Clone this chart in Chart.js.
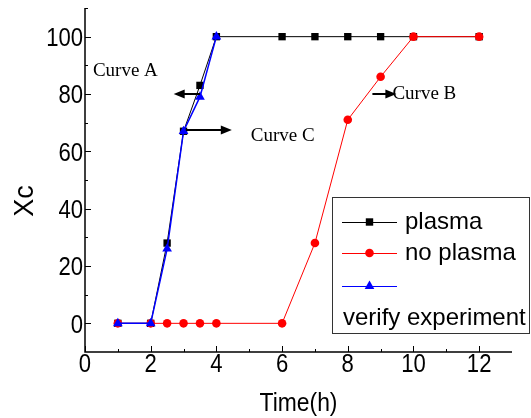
<!DOCTYPE html>
<html>
<head>
<meta charset="utf-8">
<script src="https://cdn.jsdelivr.net/npm/chart.js@4.4.1/dist/chart.umd.min.js"></script>
<style>
  html, body { margin: 0; padding: 0; background: #fff; }
  canvas { display: block; }
</style>
</head>
<body>
<canvas id="chart" width="531" height="418"></canvas>
<script>
// data
const timeHours = [1, 2, 2.5, 3, 3.5, 4, 6, 7, 8, 9, 10, 12];
const plasmaXc = [0, 0, 28, 67, 83, 100, 100, 100, 100, 100, 100, 100];
const noPlasmaXc = [0, 0, 0, 0, 0, 0, 0, 28, 71, 86, 100, 100];
const verifyHours = [1, 2, 2.5, 3, 3.5, 4];
const verifyXc = [0, 0, 26, 67, 79, 100];

const xTickValues = [0, 2, 4, 6, 8, 10, 12];
const yTickValues = [0, 20, 40, 60, 80, 100];

const curveNotes = [
  { text: 'Curve A', x: 0.24, y: 88 },
  { text: 'Curve C', x: 5.05, y: 65.5 },
  { text: 'Curve B', x: 9.36, y: 80 }
];
const curveArrows = [
  { from: 3.5, to: 2.7, y: 80 },
  { from: 3.07, to: 4.47, y: 67.4 },
  { from: 8.75, to: 9.48, y: 80 }
];

const sans = "'Liberation Sans', Arial, sans-serif";
const serif = "'Liberation Serif', 'Times New Roman', serif";

const toPoints = (xs, ys) => xs.map((x, i) => ({ x: x, y: ys[i] }));

// the original uses a condensed face, so squeeze the text sideways
function narrowText(ctx, text, x, y, size, squeeze, align) {
  ctx.save();
  ctx.font = size + 'px ' + sans;
  ctx.textAlign = align;
  ctx.textBaseline = 'alphabetic';
  ctx.translate(x, y);
  ctx.scale(squeeze, 1);
  ctx.fillText(text, 0, 0);
  ctx.restore();
}

function drawMarker(ctx, style, x, y, color) {
  ctx.fillStyle = color;
  ctx.beginPath();
  if (style === 'rect') {
    ctx.rect(x - 3.7, y - 3.7, 7.4, 7.4);
  } else if (style === 'circle') {
    ctx.arc(x, y, 4.3, 0, Math.PI * 2);
  } else {
    ctx.moveTo(x, y - 5.5);
    ctx.lineTo(x + 4.8, y + 3);
    ctx.lineTo(x - 4.8, y + 3);
    ctx.closePath();
  }
  ctx.fill();
}

const figureExtras = {
  id: 'figureExtras',
  afterDraw(chart) {
    const ctx = chart.ctx;
    const xs = chart.scales.x;
    const ys = chart.scales.y;
    const area = chart.chartArea;
    ctx.save();

    // axis lines with inward ticks
    ctx.strokeStyle = '#000';
    ctx.lineWidth = 1.5;
    ctx.beginPath();
    ctx.moveTo(area.left, area.top);
    ctx.lineTo(area.left, area.bottom);
    ctx.lineTo(area.right, area.bottom);
    ctx.stroke();

    ctx.lineWidth = 1;
    ctx.beginPath();
    xTickValues.forEach((v) => {
      const px = Math.round(xs.getPixelForValue(v)) + 0.5;
      ctx.moveTo(px, area.bottom);
      ctx.lineTo(px, area.bottom - 6);
      const mid = xs.getPixelForValue(v + 1);
      if (mid < area.right) {
        ctx.moveTo(Math.round(mid) + 0.5, area.bottom);
        ctx.lineTo(Math.round(mid) + 0.5, area.bottom - 3);
      }
    });
    yTickValues.forEach((v) => {
      const py = Math.round(ys.getPixelForValue(v)) + 0.5;
      ctx.moveTo(area.left, py);
      ctx.lineTo(area.left + 6, py);
      [v - 10, v + 10].forEach((m) => {
        const my = Math.round(ys.getPixelForValue(m)) + 0.5;
        if (my > area.top && my < area.bottom) {
          ctx.moveTo(area.left, my);
          ctx.lineTo(area.left + 3, my);
        }
      });
    });
    ctx.stroke();

    // tick labels
    ctx.fillStyle = '#000';
    xTickValues.forEach((v) => {
      narrowText(ctx, String(v), xs.getPixelForValue(v), 372, 26, 0.85, 'center');
    });
    yTickValues.forEach((v) => {
      narrowText(ctx, String(v), area.left - 2, ys.getPixelForValue(v) + 9.3, 26, 0.85, 'right');
    });

    // axis titles
    narrowText(ctx, 'Time(h)', (area.left + area.right) / 2, 411, 26, 0.88, 'center');
    ctx.save();
    ctx.translate(33, 201);
    ctx.rotate(-Math.PI / 2);
    ctx.font = '27px ' + sans;
    ctx.textAlign = 'center';
    ctx.textBaseline = 'alphabetic';
    ctx.fillText('Xc', 0, 0);
    ctx.restore();

    // curve notes and arrows
    ctx.font = '19px ' + serif;
    ctx.textAlign = 'left';
    ctx.textBaseline = 'middle';
    curveNotes.forEach((n) => {
      ctx.fillText(n.text, xs.getPixelForValue(n.x), ys.getPixelForValue(n.y));
    });
    ctx.lineWidth = 2;
    curveArrows.forEach((a) => {
      const x0 = xs.getPixelForValue(a.from);
      const x1 = xs.getPixelForValue(a.to);
      const y = ys.getPixelForValue(a.y);
      const dir = x1 > x0 ? 1 : -1;
      ctx.beginPath();
      ctx.moveTo(x0, y);
      ctx.lineTo(x1 - dir * 8, y);
      ctx.stroke();
      ctx.beginPath();
      ctx.moveTo(x1, y);
      ctx.lineTo(x1 - dir * 11, y - 4.5);
      ctx.lineTo(x1 - dir * 11, y + 4.5);
      ctx.closePath();
      ctx.fill();
    });

    // legend box
    const box = { left: 332.5, top: 197.5, width: 197, height: 136 };
    ctx.fillStyle = '#fff';
    ctx.fillRect(box.left, box.top, box.width, box.height);
    ctx.strokeStyle = '#333';
    ctx.lineWidth = 1;
    ctx.strokeRect(box.left, box.top, box.width, box.height);

    const rows = [222, 253, 286];
    ctx.font = '24px ' + sans;
    ctx.textBaseline = 'middle';
    chart.data.datasets.forEach((ds, i) => {
      const y = rows[i];
      ctx.strokeStyle = ds.borderColor;
      ctx.lineWidth = 1;
      ctx.beginPath();
      ctx.moveTo(342, y + 0.5);
      ctx.lineTo(397, y + 0.5);
      ctx.stroke();
      drawMarker(ctx, ds.pointStyle, 369.5, y, ds.backgroundColor);
      ctx.fillStyle = '#000';
      if (ds.legendText) ctx.fillText(ds.legendText, 405, y);
    });
    ctx.fillStyle = '#000';
    ctx.fillText('verify experiment', 343, 318);

    ctx.restore();
  }
};

new Chart(document.getElementById('chart'), {
  type: 'scatter',
  data: {
    datasets: [
      {
        label: 'plasma',
        legendText: 'plasma',
        data: toPoints(timeHours, plasmaXc),
        showLine: true,
        borderColor: '#000',
        backgroundColor: '#000',
        borderWidth: 1,
        pointStyle: 'rect',
        pointRadius: 5.2,
        pointBorderWidth: 0,
        order: 3
      },
      {
        label: 'no plasma',
        legendText: 'no plasma',
        data: toPoints(timeHours, noPlasmaXc),
        showLine: true,
        borderColor: '#ff0000',
        backgroundColor: '#ff0000',
        borderWidth: 1,
        pointStyle: 'circle',
        pointRadius: 4.3,
        pointBorderWidth: 0,
        order: 2
      },
      {
        label: 'verify experiment',
        legendText: '',
        data: toPoints(verifyHours, verifyXc),
        showLine: true,
        borderColor: '#0000ff',
        backgroundColor: '#0000ff',
        borderWidth: 1.5,
        pointStyle: 'triangle',
        pointRadius: 5.6,
        pointBorderWidth: 0,
        order: 1
      }
    ]
  },
  options: {
    responsive: false,
    animation: false,
    layout: { padding: { top: 8, right: 19, left: 0, bottom: 0 } },
    plugins: {
      legend: { display: false },
      tooltip: { enabled: false }
    },
    scales: {
      x: {
        type: 'linear',
        min: 0,
        max: 13,
        afterBuildTicks: (scale) => { scale.ticks = xTickValues.map((v) => ({ value: v })); },
        afterFit: (scale) => { scale.height = 66; },
        grid: { display: false, drawTicks: false },
        border: { display: false },
        ticks: { display: false }
      },
      y: {
        type: 'linear',
        min: -10,
        max: 110,
        afterBuildTicks: (scale) => { scale.ticks = yTickValues.map((v) => ({ value: v })); },
        afterFit: (scale) => { scale.width = 85; },
        grid: { display: false, drawTicks: false },
        border: { display: false },
        ticks: { display: false }
      }
    }
  },
  plugins: [figureExtras]
});
</script>
</body>
</html>
